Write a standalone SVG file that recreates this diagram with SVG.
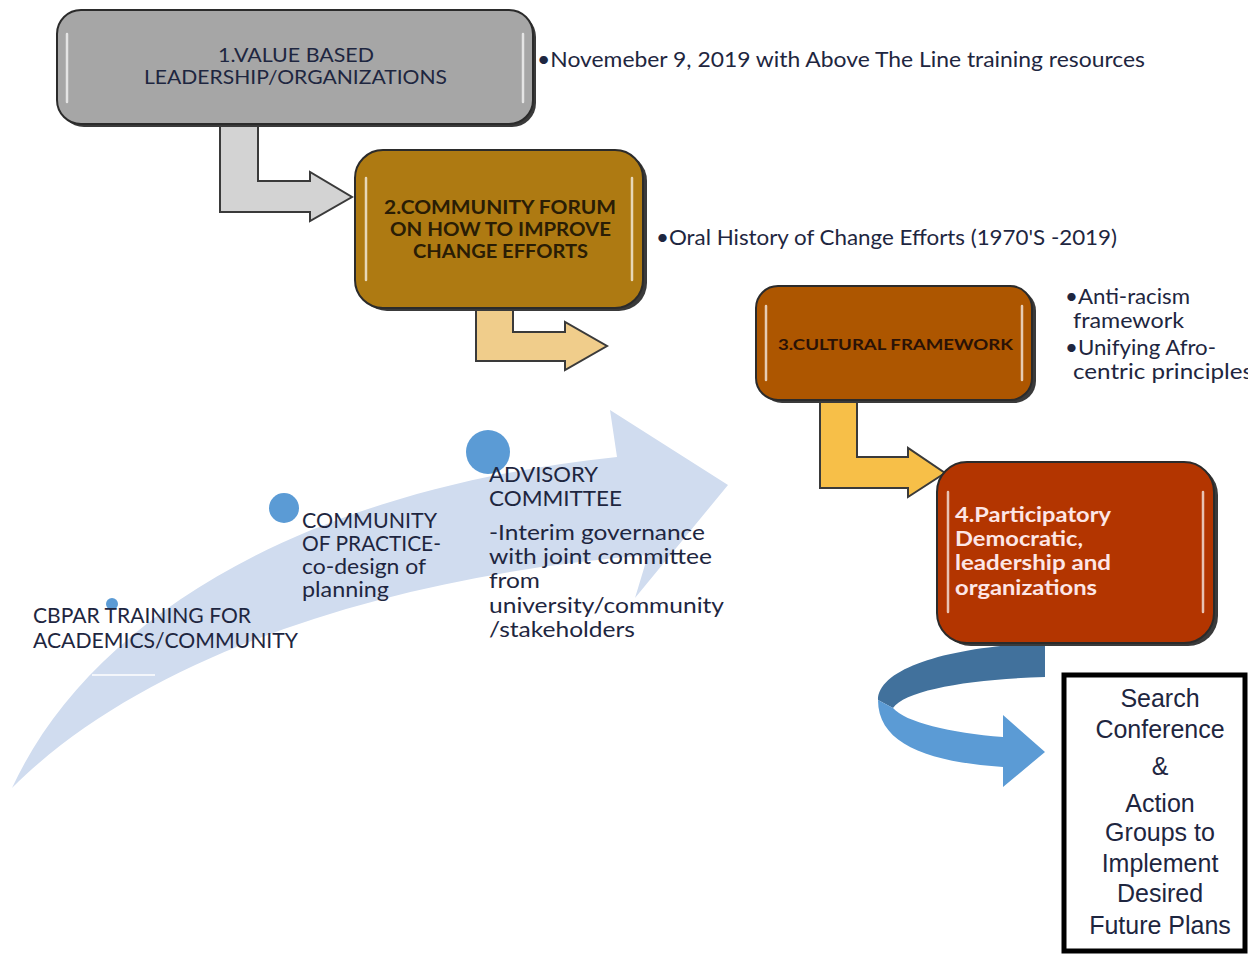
<svg xmlns="http://www.w3.org/2000/svg" width="1248" height="954" viewBox="0 0 1248 954">
<defs>
<style>
text{font-family:Lato,"Open Sans","Liberation Sans",sans-serif;}
.t{fill:#1e2640;}
.f21{font-size:21px;}
.f19{font-size:19px;}
.f185{font-size:18.5px;}
.f16{font-size:16px;}
.b{font-weight:bold;}
.box{stroke:#2b2b2b;stroke-width:2;}
.shadow{fill:#3a3a3a;}
.hl{stroke:#ffffff;stroke-opacity:0.7;stroke-width:2.5;stroke-linecap:round;fill:none;}
.bent{stroke:#3a3a3a;stroke-width:2;stroke-linejoin:miter;}
.dot{fill:#5b9bd5;}
.s{font-family:"Liberation Sans",Arial,sans-serif;font-size:25px;fill:#1e2640;}
</style>
</defs>
<rect width="1248" height="954" fill="#ffffff"/>

<g id="timeline-arrow">
<path d="M 12 788 C 90 620, 300 490, 617 457 L 610 410 L 728 485 L 635 598 L 648 555 C 400 575, 150 650, 12 788 Z" fill="#d0dcef"/>
<line x1="92" y1="675" x2="155" y2="675" stroke="#ffffff" stroke-width="1.5"/>
</g>

<g id="connectors">
<path class="bent" d="M 220 120 L 258 120 L 258 181 L 310 181 L 310 172 L 352 197 L 310 221 L 310 212 L 220 212 Z" fill="#d3d3d3"/>
<path class="bent" d="M 476 304 L 513 304 L 513 332 L 565 332 L 565 322 L 607 346 L 565 370 L 565 361 L 476 361 Z" fill="#f0cd8b"/>
<path class="bent" d="M 820 398 L 857 398 L 857 457 L 908 457 L 908 448 L 945 473 L 908 497 L 908 488 L 820 488 Z" fill="#f7bf48"/>
<path d="M 1045 643 C 950 646, 878 668, 878 700 L 893 708 C 905 690, 970 679, 1045 677 Z" fill="#41719c"/>
<path d="M 878 700 C 878 745, 930 762, 1003 767 L 1003 787 L 1045 752 L 1003 715 L 1003 737 C 950 733, 905 722, 893 708 Z" fill="#5b9bd5"/>
</g>

<g id="node1">
<rect class="shadow" x="60" y="13" width="476" height="114" rx="24"/>
<rect class="box" x="57" y="10" width="476" height="114" rx="24" fill="#a6a6a6"/>
<line class="hl" x1="67" y1="34" x2="67" y2="102"/>
<line class="hl" x1="523" y1="34" x2="523" y2="102"/>
<text class="t f19" x="218" y="62" textLength="156" lengthAdjust="spacingAndGlyphs">1.VALUE BASED</text>
<text class="t f19" x="144" y="84" textLength="303" lengthAdjust="spacingAndGlyphs">LEADERSHIP/ORGANIZATIONS</text>
</g>
<g id="note1">
<text class="t f21" x="537" y="67" textLength="608" lengthAdjust="spacingAndGlyphs">•Novemeber 9, 2019 with Above The Line training resources</text>
</g>

<g id="node2">
<rect class="shadow" x="359" y="153" width="288" height="158" rx="28"/>
<rect class="box" x="355" y="150" width="288" height="158" rx="28" fill="#ae7a12"/>
<line class="hl" x1="366" y1="178" x2="366" y2="280" stroke="#f6dc8a"/>
<line class="hl" x1="632" y1="178" x2="632" y2="280" stroke="#f6dc8a"/>
<text class="t b f185" x="384" y="214" textLength="232" lengthAdjust="spacingAndGlyphs" style="fill:#2a1d05">2.COMMUNITY FORUM</text>
<text class="t b f185" x="390" y="236" textLength="221" lengthAdjust="spacingAndGlyphs" style="fill:#2a1d05">ON HOW TO IMPROVE</text>
<text class="t b f185" x="413" y="258" textLength="175" lengthAdjust="spacingAndGlyphs" style="fill:#2a1d05">CHANGE EFFORTS</text>
</g>
<g id="note2">
<text class="t f21" x="656" y="245" textLength="461" lengthAdjust="spacingAndGlyphs">•Oral History of Change Efforts (1970'S -2019)</text>
</g>

<g id="node3">
<rect class="shadow" x="760" y="289" width="276" height="114" rx="22"/>
<rect class="box" x="756" y="286" width="276" height="114" rx="22" fill="#ad5600"/>
<line class="hl" x1="766" y1="306" x2="766" y2="380" stroke="#f3b27a"/>
<line class="hl" x1="1022" y1="306" x2="1022" y2="380" stroke="#f3b27a"/>
<text class="t b f16" x="778" y="350" textLength="235" lengthAdjust="spacingAndGlyphs" style="fill:#2a1206">3.CULTURAL FRAMEWORK</text>
</g>
<g id="note3">
<text class="t f21" x="1065" y="304" textLength="125" lengthAdjust="spacingAndGlyphs">•Anti-racism</text>
<text class="t f21" x="1073" y="328" textLength="111" lengthAdjust="spacingAndGlyphs">framework</text>
<text class="t f21" x="1065" y="355" textLength="151" lengthAdjust="spacingAndGlyphs">•Unifying Afro-</text>
<text class="t f21" x="1073" y="379" textLength="180" lengthAdjust="spacingAndGlyphs">centric principles</text>
</g>

<g id="node4">
<rect class="shadow" x="941" y="465" width="277" height="181" rx="30"/>
<rect class="box" x="937" y="462" width="277" height="181" rx="30" fill="#b33500"/>
<line class="hl" x1="948" y1="492" x2="948" y2="612" stroke="#f5a07a"/>
<line class="hl" x1="1203" y1="492" x2="1203" y2="612" stroke="#f5a07a"/>
<text class="t b f21" x="955" y="522" textLength="156" lengthAdjust="spacingAndGlyphs" style="fill:#fde6e6">4.Participatory</text>
<text class="t b f21" x="955" y="546" textLength="128" lengthAdjust="spacingAndGlyphs" style="fill:#fde6e6">Democratic,</text>
<text class="t b f21" x="955" y="570" textLength="156" lengthAdjust="spacingAndGlyphs" style="fill:#fde6e6">leadership and</text>
<text class="t b f21" x="955" y="595" textLength="142" lengthAdjust="spacingAndGlyphs" style="fill:#fde6e6">organizations</text>
</g>

<g id="node-search">
<rect x="1064" y="675" width="181" height="276" fill="#ffffff" stroke="#000000" stroke-width="5"/>
<text class="s" x="1160" y="707" text-anchor="middle">Search</text>
<text class="s" x="1160" y="738" text-anchor="middle">Conference</text>
<text class="s" x="1160" y="775" text-anchor="middle">&amp;</text>
<text class="s" x="1160" y="812" text-anchor="middle">Action</text>
<text class="s" x="1160" y="841" text-anchor="middle">Groups to</text>
<text class="s" x="1160" y="872" text-anchor="middle">Implement</text>
<text class="s" x="1160" y="902" text-anchor="middle">Desired</text>
<text class="s" x="1160" y="934" text-anchor="middle">Future Plans</text>
</g>

<g id="step-cbpar">
<circle class="dot" cx="112" cy="604" r="6"/>
<text class="t f21" x="33" y="623" textLength="218" lengthAdjust="spacingAndGlyphs">CBPAR TRAINING FOR</text>
<text class="t f21" x="33" y="648" textLength="265" lengthAdjust="spacingAndGlyphs">ACADEMICS/COMMUNITY</text>
</g>
<g id="step-practice">
<circle class="dot" cx="284" cy="508" r="15"/>
<text class="t f21" x="302" y="528" textLength="135" lengthAdjust="spacingAndGlyphs">COMMUNITY</text>
<text class="t f21" x="302" y="551" textLength="139" lengthAdjust="spacingAndGlyphs">OF PRACTICE-</text>
<text class="t f21" x="302" y="574" textLength="124" lengthAdjust="spacingAndGlyphs">co-design of</text>
<text class="t f21" x="302" y="597" textLength="87" lengthAdjust="spacingAndGlyphs">planning</text>
</g>
<g id="step-advisory">
<circle class="dot" cx="488" cy="452" r="22"/>
<text class="t f21" x="489" y="482" textLength="109" lengthAdjust="spacingAndGlyphs">ADVISORY</text>
<text class="t f21" x="489" y="506" textLength="133" lengthAdjust="spacingAndGlyphs">COMMITTEE</text>
<text class="t f21" x="489" y="540" textLength="216" lengthAdjust="spacingAndGlyphs">-Interim governance</text>
<text class="t f21" x="489" y="564" textLength="223" lengthAdjust="spacingAndGlyphs">with joint committee</text>
<text class="t f21" x="489" y="588" textLength="51" lengthAdjust="spacingAndGlyphs">from</text>
<text class="t f21" x="489" y="613" textLength="235" lengthAdjust="spacingAndGlyphs">university/community</text>
<text class="t f21" x="489" y="637" textLength="146" lengthAdjust="spacingAndGlyphs">/stakeholders</text>
</g>
</svg>
